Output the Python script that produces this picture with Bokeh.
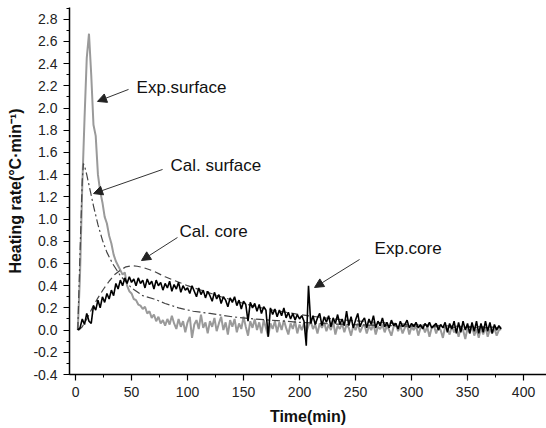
from bokeh.plotting import figure
from bokeh.models import Range1d, Arrow, NormalHead, Label, SingleIntervalTicker, PrintfTickFormatter
from bokeh.embed import file_html
from bokeh.resources import INLINE

# ---------------- data ----------------
time_exp = list(range(2, 382, 2))

exp_surface = [
    0.00, 0.50, 1.30, 1.90, 2.45, 2.67, 2.30, 1.85, 1.75, 1.40,
    1.25, 1.15, 1.02, 0.96, 0.85, 0.78, 0.68, 0.62, 0.58, 0.54,
    0.50, 0.52, 0.40, 0.35, 0.33, 0.28, 0.27, 0.23, 0.22, 0.19,
    0.21, 0.15, 0.17, 0.11, 0.14, 0.08, 0.12, 0.06, 0.09, 0.04,
    0.10, 0.05, 0.13, 0.06, 0.01, 0.10, 0.03, 0.08, -0.02, 0.07,
    0.12, -0.07, 0.05, 0.09, 0.01, 0.14, 0.02, 0.07, -0.03, 0.08,
    0.03, 0.11, -0.01, 0.06, 0.12, 0.00, 0.07, -0.04, 0.09, 0.03,
    0.10, -0.02, 0.06, 0.01, 0.12, 0.03, -0.05, 0.08, 0.02, 0.10,
    0.00, 0.07, -0.03, 0.09, 0.02, -0.06, 0.06, 0.01, 0.08, -0.02,
    0.07, 0.00, 0.09, 0.02, -0.04, 0.06, 0.01, 0.08, -0.03, 0.05,
    0.00, 0.06, -0.02, 0.04, 0.08, 0.01, 0.05, -0.03, 0.06, 0.02,
    0.07, -0.01, 0.05, 0.00, 0.08, -0.04, 0.04, 0.01, 0.06, -0.02,
    0.05, 0.02, -0.05, 0.04, 0.00, 0.06, -0.02, 0.03, 0.05, -0.03,
    0.04, 0.00, 0.06, -0.04, 0.03, 0.01, 0.05, -0.02, 0.04, 0.00,
    -0.05, 0.03, 0.05, -0.01, 0.04, -0.03, 0.02, 0.05, -0.04, 0.03,
    0.00, 0.04, -0.05, 0.02, 0.04, -0.02, 0.03, -0.06, 0.02, 0.04,
    -0.03, 0.03, 0.00, -0.07, 0.03, 0.01, -0.04, 0.04, -0.02, 0.02,
    -0.06, 0.03, 0.00, -0.08, 0.02, -0.03, 0.04, -0.05, 0.01, -0.07,
    0.02, -0.04, 0.03, -0.06, 0.01, -0.03, 0.02, -0.05, 0.00, 0.01,
]

exp_core = [
    0.00, 0.02, 0.10, 0.05, 0.15, 0.08, 0.06, 0.22, 0.18, 0.27,
    0.20, 0.30, 0.25, 0.33, 0.28, 0.36, 0.31, 0.42, 0.37, 0.45,
    0.40, 0.47, 0.42, 0.48, 0.43, 0.46, 0.40, 0.47, 0.42, 0.45,
    0.38, 0.46, 0.41, 0.44, 0.37, 0.45, 0.40, 0.43, 0.36, 0.42,
    0.38, 0.44, 0.35, 0.41, 0.37, 0.43, 0.34, 0.40, 0.36, 0.38,
    0.33, 0.40, 0.35, 0.30, 0.38, 0.32, 0.36, 0.29, 0.35, 0.31,
    0.26, 0.34, 0.28, 0.32, 0.24, 0.30, 0.27, 0.21, 0.29, 0.25,
    0.30, 0.22, 0.27, 0.19, 0.26, 0.23, 0.08, 0.25, 0.20, 0.24,
    0.17, 0.23, 0.15, 0.21, 0.18, -0.06, 0.20, 0.14, 0.19, 0.12,
    0.18, 0.13, 0.20, 0.11, 0.16, 0.10, 0.15, 0.09, 0.14, 0.10,
    0.13, 0.08, -0.14, 0.40, 0.06, 0.13, 0.05, 0.11, 0.15, 0.04,
    0.12, 0.07, 0.13, 0.03, 0.11, 0.06, 0.14, 0.05, 0.10, 0.04,
    0.17, 0.04, 0.12, 0.02, 0.09, 0.15, 0.03, 0.08, 0.11, 0.02,
    0.10, 0.05, 0.13, 0.02, 0.08, 0.04, 0.11, 0.03, 0.07, 0.02,
    0.09, 0.04, 0.06, 0.01, 0.08, 0.03, 0.05, 0.09, 0.02, 0.06,
    0.03, 0.07, 0.02, 0.05, 0.01, 0.06, 0.03, 0.07, 0.02, 0.04,
    0.06, 0.00, 0.05, 0.02, 0.07, -0.02, 0.06, 0.01, 0.08, -0.03,
    0.07, -0.02, 0.08, 0.00, 0.06, -0.03, 0.07, -0.01, 0.08, -0.03,
    0.06, -0.02, 0.08, -0.01, 0.07, -0.03, 0.05, 0.00, 0.04, 0.01,
]

time_cal_surface = [2, 4, 6, 7, 8, 10, 13, 16, 20, 24, 28, 33, 40, 50, 60, 70, 80,
                    92, 105, 120, 140, 160, 180, 200, 230, 260, 300, 340, 380]
cal_surface = [0.00, 0.70, 1.35, 1.50, 1.48, 1.40, 1.26, 1.12, 0.95, 0.81, 0.70,
               0.60, 0.49, 0.38, 0.31, 0.28, 0.24, 0.20, 0.17, 0.15, 0.12, 0.10,
               0.085, 0.07, 0.055, 0.045, 0.035, 0.025, 0.02]

time_cal_core = [3, 6, 10, 15, 20, 25, 30, 35, 40, 45, 50, 55, 60, 70, 80, 90, 100,
                 115, 130, 150, 170, 200, 230, 260, 300, 340, 380]
cal_core = [0.00, 0.03, 0.10, 0.20, 0.29, 0.37, 0.44, 0.50, 0.54, 0.57, 0.58, 0.575,
            0.565, 0.53, 0.48, 0.44, 0.40, 0.35, 0.30, 0.24, 0.19, 0.14, 0.10,
            0.075, 0.05, 0.035, 0.025]

labels = ["Exp.surface", "Cal. surface", "Cal. core", "Exp.core"]
label_pos = [(54.5, 2.185), (84.8, 1.483), (92.9, 0.888), (267.0, 0.735)]
arrow_from = [(47.3, 2.168), (77.7, 1.447), (91.0, 0.834), (253.6, 0.636)]
arrow_to = [(19.6, 2.06), (16.1, 1.23), (58.9, 0.627), (213.4, 0.384)]

FONT = "Liberation Sans"

# ---------------- figure ----------------
p = figure(width=546, height=428, output_backend="svg", toolbar_location=None,
           x_range=Range1d(-5.4, 420.5), y_range=Range1d(-0.4, 2.906),
           min_border_left=69, min_border_right=0, min_border_top=7,
           min_border_bottom=54)
p.outline_line_color = None
p.xgrid.visible = False
p.ygrid.visible = False
p.background_fill_color = "white"
p.border_fill_color = "white"

p.line(time_exp, exp_surface, line_color="#9a9a9a", line_width=2.0)
p.line(time_cal_surface, cal_surface, line_color="#444444", line_width=1.2,
       line_dash="8 3 2 3")
p.line(time_cal_core, cal_core, line_color="#444444", line_width=1.2,
       line_dash="7 4")
p.line(time_exp, exp_core, line_color="black", line_width=1.6)

for (x0, y0), (x1, y1) in zip(arrow_from, arrow_to):
    p.add_layout(Arrow(x_start=x0, y_start=y0, x_end=x1, y_end=y1,
                       line_color="#333333", line_width=1,
                       end=NormalHead(size=9, fill_color="#222222",
                                      line_color="#222222")))

for txt, (x, y) in zip(labels, label_pos):
    p.add_layout(Label(x=x, y=y, text=txt, text_font=FONT,
                       text_font_size="17px", text_baseline="middle",
                       text_align="left", text_color="#111111"))

# axes
p.xaxis.ticker = SingleIntervalTicker(interval=50, num_minor_ticks=2)
p.yaxis.ticker = SingleIntervalTicker(interval=0.2, num_minor_ticks=2)
p.yaxis.formatter = PrintfTickFormatter(format="%.1f")
p.xaxis.axis_label = "Time(min)"
p.yaxis.axis_label = "Heating rate(°C·min⁻¹)"
for ax in (p.xaxis, p.yaxis):
    ax.axis_line_color = "black"
    ax.axis_line_width = 1.5
    ax.major_tick_line_color = "black"
    ax.minor_tick_line_color = "black"
    ax.major_tick_line_width = 1.2
    ax.minor_tick_line_width = 1.0
    ax.major_tick_in = 0
    ax.major_tick_out = 6
    ax.minor_tick_in = 0
    ax.minor_tick_out = 3
    ax.major_label_text_font = FONT
    ax.major_label_text_font_size = "14px"
    ax.major_label_text_color = "#222222"
    ax.axis_label_text_font = FONT
    ax.axis_label_text_font_size = "16px"
    ax.axis_label_text_font_style = "bold"
    ax.axis_label_text_color = "#111111"
p.xaxis.major_label_standoff = 6
p.yaxis.major_label_standoff = 6
p.xaxis.axis_label_standoff = 8
p.yaxis.axis_label_standoff = 6

open("out.html", "w").write(file_html(p, INLINE))
